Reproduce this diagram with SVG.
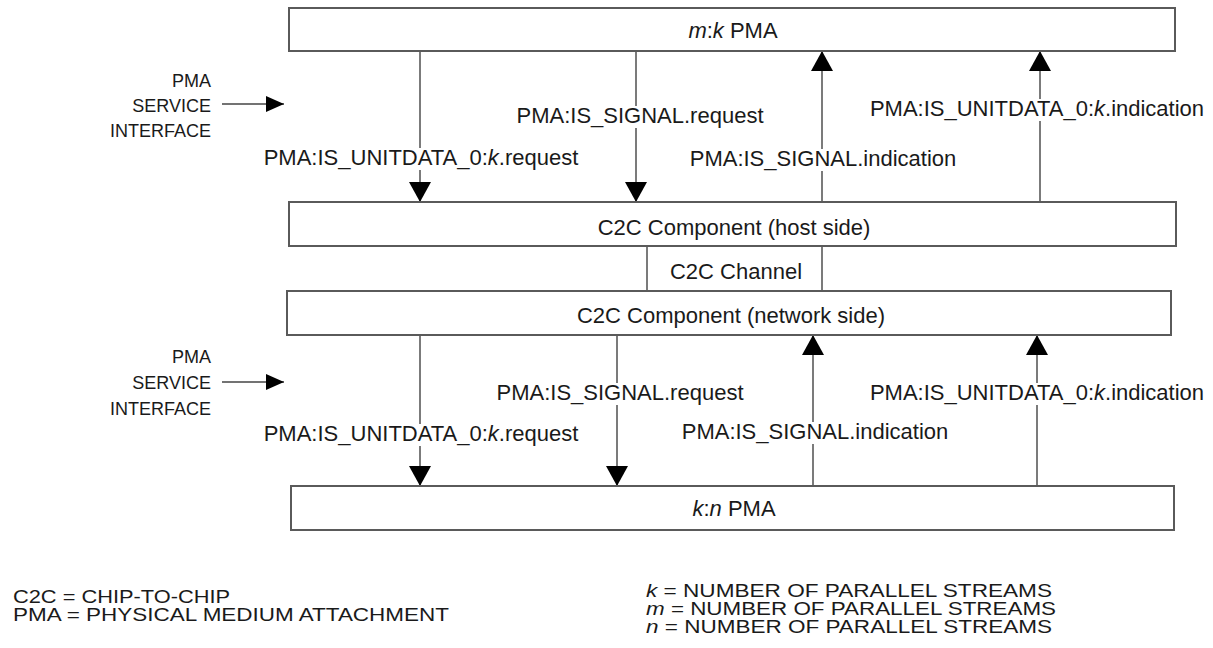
<svg xmlns="http://www.w3.org/2000/svg" width="1213" height="648" viewBox="0 0 1213 648">
<style>
text{font-family:"Liberation Sans",Arial,Helvetica,sans-serif;fill:#1a1a1a}
.box{fill:#fff;stroke:#5a5a5a;stroke-width:2}
.bt{font-size:22px;text-anchor:middle}
.lbl{font-size:22px;text-anchor:middle}
.bg{fill:#fff}
.side{font-size:18px;text-anchor:end}
.leg{font-size:18px}
.ln{stroke:#5a5a5a;stroke-width:1.6;fill:none}
.arr{stroke:#5a5a5a;stroke-width:1.6;fill:none;marker-end:url(#ah)}
.sarr{stroke:#444;stroke-width:1.6;fill:none;marker-end:url(#sh)}
.it{font-style:italic}
</style>
<defs>
<marker id="ah" markerUnits="userSpaceOnUse" markerWidth="22" markerHeight="22" refX="20" refY="11" orient="auto" viewBox="0 0 20 22">
<path d="M0,0 L20,11 L0,22 Z" fill="#000"/>
</marker>
<marker id="sh" markerUnits="userSpaceOnUse" markerWidth="18" markerHeight="16" refX="18" refY="8" orient="auto" viewBox="0 0 18 16">
<path d="M0,0 L18,8 L0,16 Z" fill="#000"/>
</marker>
</defs>

<g id="connectors">
<line class="arr" x1="420" y1="51" x2="420" y2="202"/>
<line class="arr" x1="636" y1="51" x2="636" y2="202"/>
<line class="arr" x1="822" y1="202" x2="822" y2="51"/>
<line class="arr" x1="1040" y1="202" x2="1040" y2="51"/>
<line class="ln" x1="647" y1="246" x2="647" y2="291"/>
<line class="ln" x1="822" y1="246" x2="822" y2="291"/>
<line class="arr" x1="420" y1="335" x2="420" y2="486"/>
<line class="arr" x1="617" y1="335" x2="617" y2="486"/>
<line class="arr" x1="813" y1="486" x2="813" y2="335"/>
<line class="arr" x1="1037" y1="486" x2="1037" y2="335"/>
<line class="sarr" x1="222" y1="104" x2="284" y2="104"/>
<line class="sarr" x1="222" y1="382" x2="284" y2="382"/>
</g>

<g id="labels">
<rect class="bg" x="262" y="148" width="318" height="22"/>
<text class="lbl" x="421" y="165">PMA:IS_UNITDATA_0:<tspan class="it">k</tspan>.request</text>
<rect class="bg" x="516" y="106" width="248" height="22"/>
<text class="lbl" x="640" y="123">PMA:IS_SIGNAL.request</text>
<rect class="bg" x="689" y="149" width="268" height="22"/>
<text class="lbl" x="823" y="166">PMA:IS_SIGNAL.indication</text>
<rect class="bg" x="868" y="99" width="338" height="22"/>
<text class="lbl" x="1037" y="116">PMA:IS_UNITDATA_0:<tspan class="it">k</tspan>.indication</text>
<rect class="bg" x="262" y="424" width="318" height="22"/>
<text class="lbl" x="421" y="441">PMA:IS_UNITDATA_0:<tspan class="it">k</tspan>.request</text>
<rect class="bg" x="496" y="383" width="248" height="22"/>
<text class="lbl" x="620" y="400">PMA:IS_SIGNAL.request</text>
<rect class="bg" x="681" y="422" width="268" height="22"/>
<text class="lbl" x="815" y="439">PMA:IS_SIGNAL.indication</text>
<rect class="bg" x="868" y="383" width="338" height="22"/>
<text class="lbl" x="1037" y="400">PMA:IS_UNITDATA_0:<tspan class="it">k</tspan>.indication</text>
</g>

<g id="node-mk-pma">
<rect class="box" x="289" y="8" width="886" height="43"/>
<text class="bt" x="733" y="38"><tspan class="it">m</tspan>:<tspan class="it">k</tspan> PMA</text>
</g>
<g id="node-c2c-host">
<rect class="box" x="289" y="202" width="887" height="44"/>
<text class="bt" x="734" y="235">C2C Component (host side)</text>
</g>
<g id="node-c2c-channel">
<text class="bt" x="736" y="279">C2C Channel</text>
</g>
<g id="node-c2c-network">
<rect class="box" x="287" y="291" width="884" height="44"/>
<text class="bt" x="731" y="323">C2C Component (network side)</text>
</g>
<g id="node-kn-pma">
<rect class="box" x="291" y="486" width="883" height="44"/>
<text class="bt" x="734" y="516"><tspan class="it">k</tspan>:<tspan class="it">n</tspan> PMA</text>
</g>

<g id="node-service-interface-top">
<text class="side" x="211" y="87">PMA</text>
<text class="side" x="211" y="112">SERVICE</text>
<text class="side" x="211" y="137">INTERFACE</text>
</g>
<g id="node-service-interface-bottom">
<text class="side" x="211" y="363">PMA</text>
<text class="side" x="211" y="389">SERVICE</text>
<text class="side" x="211" y="415">INTERFACE</text>
</g>

<g id="legend">
<text class="leg" x="13" y="603" textLength="217" lengthAdjust="spacingAndGlyphs">C2C = CHIP-TO-CHIP</text>
<text class="leg" x="13" y="621" textLength="436" lengthAdjust="spacingAndGlyphs">PMA = PHYSICAL MEDIUM ATTACHMENT</text>
<text class="leg" x="646" y="597" textLength="406" lengthAdjust="spacingAndGlyphs"><tspan class="it">k</tspan> = NUMBER OF PARALLEL STREAMS</text>
<text class="leg" x="646" y="615" textLength="410" lengthAdjust="spacingAndGlyphs"><tspan class="it">m</tspan> = NUMBER OF PARALLEL STREAMS</text>
<text class="leg" x="646" y="633" textLength="406" lengthAdjust="spacingAndGlyphs"><tspan class="it">n</tspan> = NUMBER OF PARALLEL STREAMS</text>
</g>
</svg>
